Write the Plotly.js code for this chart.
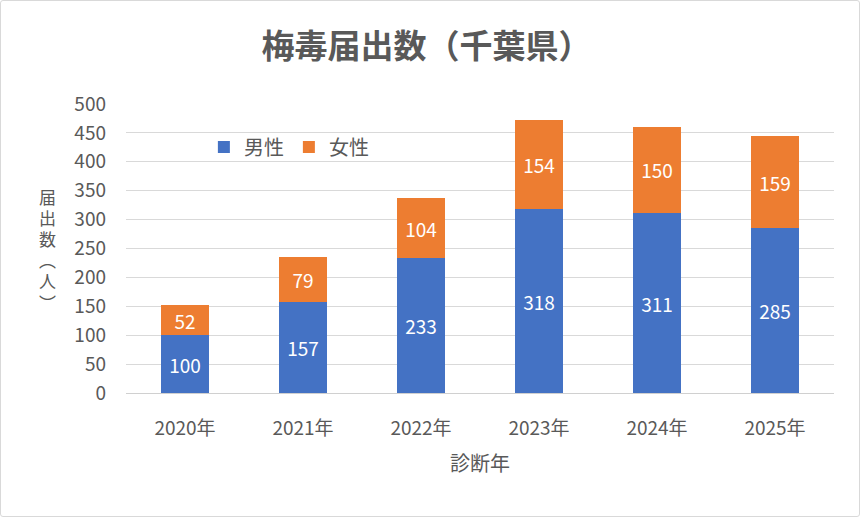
<!DOCTYPE html>
<html>
<head>
<meta charset="utf-8">
<script src="https://cdn.plot.ly/plotly-3.0.1.min.js"></script>
<style>
html,body{margin:0;padding:0;background:#fff;}
#wrap{position:relative;width:860px;height:517px;}
#chart{width:860px;height:517px;}
#frame{position:absolute;left:0;top:0;width:858px;height:515px;border:1px solid #d9d9d9;border-radius:3px;pointer-events:none;}
</style>
</head>
<body>
<div id="wrap"><div id="chart"></div><div id="frame"></div></div>
<script>
const categories = ["2020年", "2021年", "2022年", "2023年", "2024年", "2025年"];
const male = [100, 157, 233, 318, 311, 285];
const female = [52, 79, 104, 154, 150, 159];
const seriesNames = ["男性", "女性"];
const yTicks = [0, 50, 100, 150, 200, 250, 300, 350, 400, 450, 500];
const yTitleChars = ["届", "出", "数", "︵", "人", "︶"];

const FONT = '"Noto Sans CJK JP", "Noto Sans", sans-serif';
const GREY = '#595959';

const traces = [
  {
    type: 'bar', name: seriesNames[0], x: categories, y: male,
    marker: {color: '#4472C4'},
    text: male.map(String), textposition: 'inside', insidetextanchor: 'middle',
    textangle: 0, constraintext: 'none',
    textfont: {color: '#ffffff', size: 19, family: FONT},
    hoverinfo: 'skip'
  },
  {
    type: 'bar', name: seriesNames[1], x: categories, y: female,
    marker: {color: '#ED7D31'},
    text: female.map(String), textposition: 'inside', insidetextanchor: 'middle',
    textangle: 0, constraintext: 'none',
    textfont: {color: '#ffffff', size: 19, family: FONT},
    hoverinfo: 'skip'
  }
];

// plot area geometry (pixels) for placing the stacked vertical axis title
const plotTop = 104, plotH = 289, plotL = 126, plotW = 708;
const yTitleAnns = yTitleChars.map((ch, i) => {
  const py = 196 + 21.2 * i;
  return {
    text: ch, xref: 'paper', yref: 'paper',
    x: (47 - plotL) / plotW, y: (plotTop + plotH - py) / plotH,
    xanchor: 'center', yanchor: 'middle', showarrow: false,
    borderpad: 0,
    font: {size: 17, color: GREY, family: FONT}
  };
});

const layout = {
  width: 860, height: 517,
  paper_bgcolor: '#ffffff', plot_bgcolor: '#ffffff',
  margin: {l: 126, r: 26, t: 104, b: 124},
  barmode: 'stack',
  bargap: 0.59,
  font: {family: FONT, color: GREY},
  title: {
    text: '<b>梅毒届出数（千葉県）</b>',
    font: {size: 33, color: GREY, family: FONT},
    x: 0.496, xanchor: 'center', y: 0.91, yanchor: 'middle'
  },
  showlegend: true,
  legend: {
    orientation: 'h', x: 0.11, xanchor: 'left', y: 0.851, yanchor: 'middle',
    font: {size: 20, color: GREY, family: FONT},
    bgcolor: 'rgba(0,0,0,0)', itemwidth: 30, traceorder: 'normal'
  },
  xaxis: {
    type: 'category',
    tickfont: {size: 19, color: GREY, family: FONT},
    ticks: '', ticklabelstandoff: 18,
    showline: true, linecolor: '#d0d0d0', linewidth: 1,
    title: {text: '診断年', font: {size: 20, color: GREY, family: FONT}, standoff: 18},
    fixedrange: true
  },
  yaxis: {
    range: [0, 500], tickvals: yTicks, ticktext: yTicks.map(String),
    tickfont: {size: 19, color: GREY, family: FONT},
    ticks: '', ticklabelstandoff: 19,
    showgrid: true, gridcolor: '#d9d9d9', gridwidth: 1,
    zeroline: false, showline: false,
    fixedrange: true
  },
  annotations: yTitleAnns
};

Plotly.newPlot('chart', traces, layout, {displayModeBar: false, staticPlot: true});
</script>
</body>
</html>
